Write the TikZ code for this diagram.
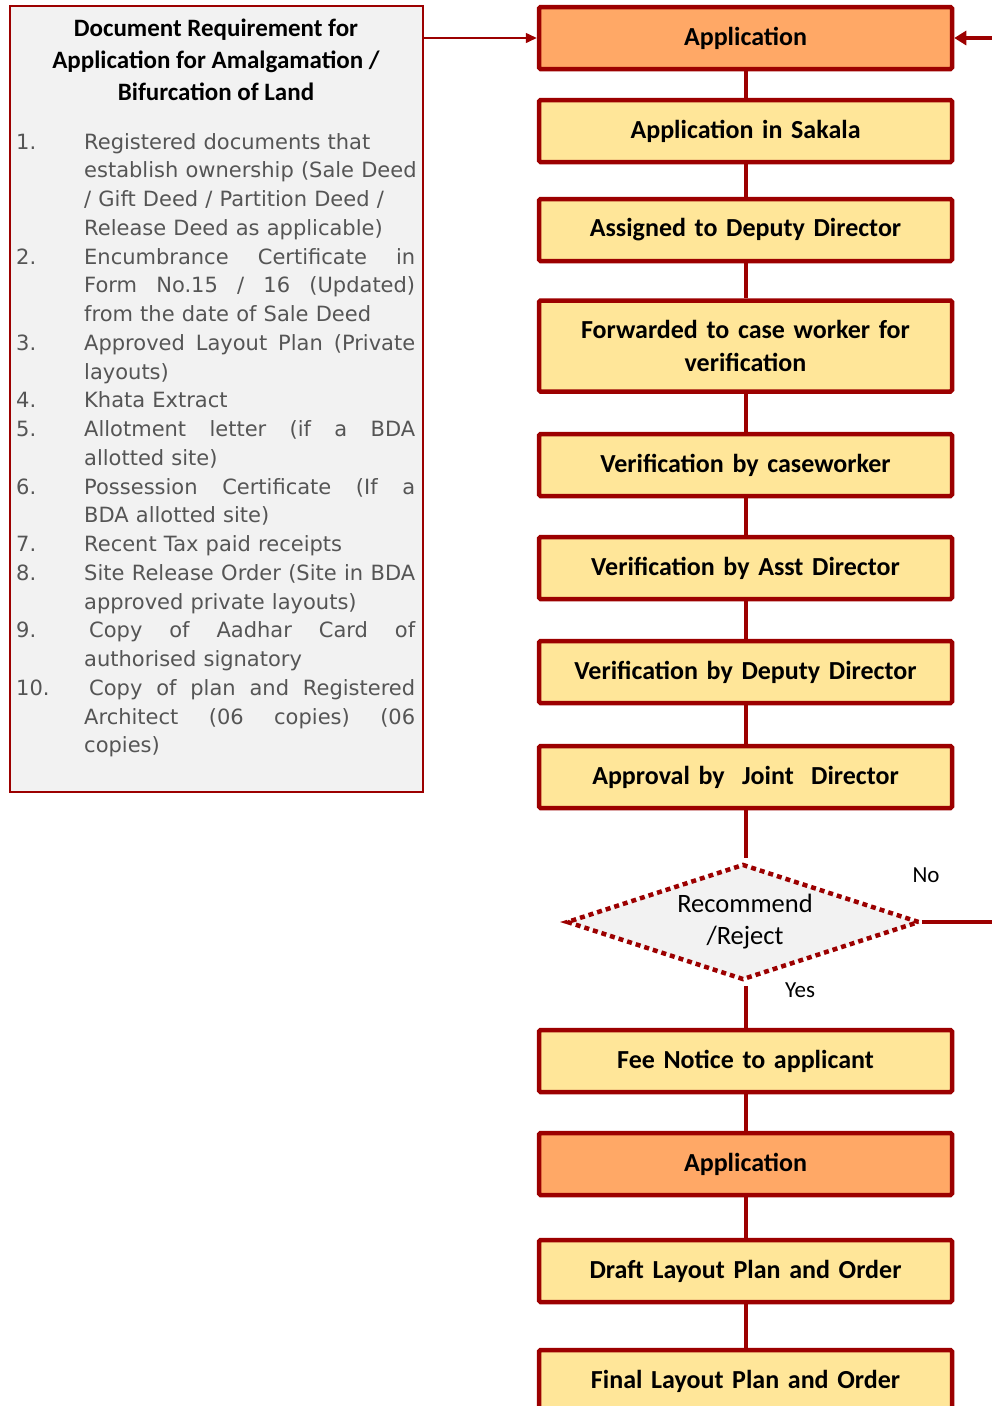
\documentclass[tikz,border=0pt]{standalone}
\usepackage{fontspec}
\setmainfont{Carlito}
\newfontfamily\listfont{DejaVu Sans}
\usetikzlibrary{shapes.geometric,arrows.meta}
\definecolor{bred}{HTML}{9C0000}
\definecolor{byellow}{HTML}{FFE699}
\definecolor{borange}{HTML}{FFA866}
\definecolor{bgray}{HTML}{F2F2F2}
\definecolor{ltext}{HTML}{555555}
\newcommand\LN[2]{\makebox[68pt][l]{#1}#2\par}
\newcommand\LS[2]{\makebox[68pt][l]{#1}\makebox[331pt][l]{#2}\par}
\newcommand\LT[2]{\makebox[68pt][l]{#1}\hspace*{5pt}\makebox[326pt][l]{#2}\par}
\begin{document}
\begin{tikzpicture}[x=1pt,y=-1pt,
  flowbox/.style={draw=bred,line width=4.5pt,rounded corners=1.5pt,fill=byellow,
    minimum width=413pt,minimum height=62pt,inner sep=0pt,align=center,text width=405pt,
    font=\fontsize{26}{33}\selectfont\bfseries},
  orangebox/.style={flowbox,fill=borange},
  conn/.style={draw=bred,line width=4pt},
  lbl/.style={font=\fontsize{23}{28}\selectfont,inner sep=0pt}]
\useasboundingbox (0,0) rectangle (991,1406);
% document requirement box
\node[draw=bred,line width=2pt,fill=bgray,minimum width=413pt,minimum height=786pt,inner sep=0pt]
  (doc) at (216.5,399) {};
\node[align=center,inner sep=0pt,font=\fontsize{25}{32}\selectfont\bfseries] (head) at (216,60)
  {Document Requirement for\\Application for Amalgamation /\\Bifurcation of Land};
\node[anchor=base west,inner sep=0pt,text width=420pt,text=ltext] (list) at (16,149)
{\listfont\fontsize{21}{28.76}\selectfont\parindent=0pt\parskip=0pt
\spaceskip=0.34em plus 0.1em minus 0.05em
\LN{1.}{Registered documents that}
\LN{}{establish ownership (Sale Deed}
\LN{}{/ Gift Deed / Partition Deed /}
\LN{}{Release Deed as applicable)}
\LS{2.}{Encumbrance\hfill Certificate\hfill in}
\LS{}{Form\hfill No.15\hfill /\hfill 16\hfill (Updated)}
\LN{}{from the date of Sale Deed}
\LS{3.}{Approved\hfill Layout\hfill Plan\hfill (Private}
\LN{}{layouts)}
\LN{4.}{Khata Extract}
\LS{5.}{Allotment\hfill letter\hfill (if\hfill a\hfill BDA}
\LN{}{allotted site)}
\LS{6.}{Possession\hfill Certificate\hfill (If\hfill a}
\LN{}{BDA allotted site)}
\LN{7.}{Recent Tax paid receipts}
\LS{8.}{Site\hfill Release\hfill Order\hfill (Site\hfill in\hfill BDA}
\LN{}{approved private layouts)}
\LT{9.}{Copy\hfill of\hfill Aadhar\hfill Card\hfill of}
\LN{}{authorised signatory}
\LT{10.}{Copy\hfill of\hfill plan\hfill and\hfill Registered}
\LS{}{Architect\hfill (06\hfill copies)\hfill (06}
\LN{}{copies)}
};
% flow boxes
\node[orangebox] (n1) at (745.5,38) {Application};
\node[flowbox] (n2) at (745.5,131) {Application in Sakala};
\node[flowbox] (n3) at (745.5,230) {Assigned to Deputy Director};
\node[flowbox,minimum height=91pt] (n4) at (745.5,346) {Forwarded to case worker for\\verification};
\node[flowbox] (n5) at (745.5,465) {Verification by caseworker};
\node[flowbox] (n6) at (745.5,568) {Verification by Asst Director};
\node[flowbox] (n7) at (745.5,672) {Verification by Deputy Director};
\node[flowbox] (n8) at (745.5,777) {Approval by\ \ Joint\ \ Director};
\node[diamond,draw=bred,line width=4.5pt,dash pattern=on 5pt off 4pt,fill=bgray,
  minimum width=353pt,minimum height=116pt,aspect=3,inner sep=0pt,align=center,
  font=\fontsize{26.5}{32}\selectfont] (d) at (743,922) {\hspace*{4pt}Recommend\\\hspace*{4pt}/Reject};
\node[flowbox] (n9) at (745.5,1061) {Fee Notice to applicant};
\node[orangebox] (n10) at (745.5,1164) {Application};
\node[flowbox] (n11) at (745.5,1271) {Draft Layout Plan and Order};
\node[flowbox] (n12) at (745.5,1381) {Final Layout Plan and Order};
\node[lbl] (no) at (926,875) {No};
\node[lbl] (yes) at (800,990) {Yes};
% connectors
\draw[conn] (n1) -- (n2);
\draw[conn] (n2) -- (n3);
\draw[conn] (n3) -- (n4);
\draw[conn] (n4) -- (n5);
\draw[conn] (n5) -- (n6);
\draw[conn] (n6) -- (n7);
\draw[conn] (n7) -- (n8);
\draw[conn] (n8.south) -- ([yshift=4pt]n8.south |- d.north);
\draw[conn] ([yshift=-4pt]n9.north |- d.south) -- (n9.north);
\draw[conn] (n9) -- (n10);
\draw[conn] (n10) -- (n11);
\draw[conn] (n11) -- (n12);
\coordinate (re) at (995,922);
\coordinate (ra) at (995,38);
\draw[conn] (d.east) -- (re);
\draw[conn,-{Triangle[length=12pt,width=14pt]}] (ra) -- (n1.east);
\draw[draw=bred,line width=1.5pt,-{Triangle[length=11pt,width=10pt]}] (doc.east |- n1.west) -- (n1.west);
\end{tikzpicture}
\end{document}
